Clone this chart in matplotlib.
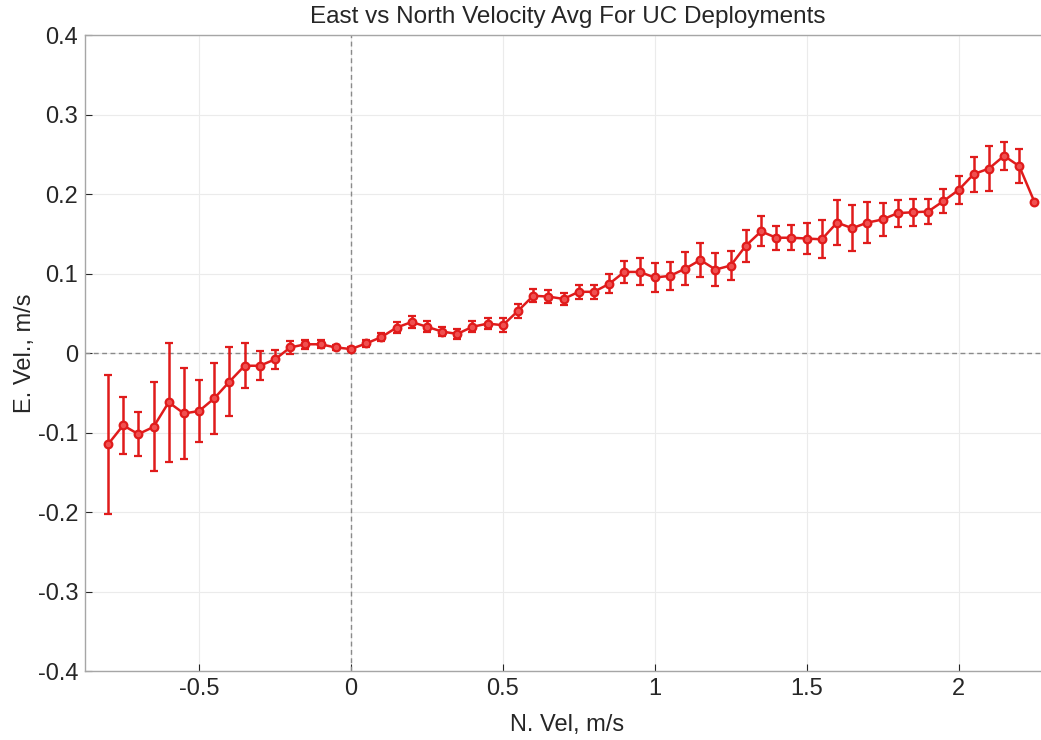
import numpy as np
import matplotlib.pyplot as plt

# North velocity bins (m/s)
n_vel = [-0.80, -0.75, -0.70, -0.65, -0.60, -0.55, -0.50, -0.45, -0.40, -0.35,
         -0.30, -0.25, -0.20, -0.15, -0.10, -0.05, 0.00, 0.05, 0.10, 0.15,
         0.20, 0.25, 0.30, 0.35, 0.40, 0.45, 0.50, 0.55, 0.60, 0.65,
         0.70, 0.75, 0.80, 0.85, 0.90, 0.95, 1.00, 1.05, 1.10, 1.15,
         1.20, 1.25, 1.30, 1.35, 1.40, 1.45, 1.50, 1.55, 1.60, 1.65,
         1.70, 1.75, 1.80, 1.85, 1.90, 1.95, 2.00, 2.05, 2.10, 2.15,
         2.20, 2.25]

# mean east velocity per bin (m/s)
e_vel = [-0.115, -0.091, -0.102, -0.093, -0.062, -0.076, -0.073, -0.057, -0.036, -0.016,
         -0.016, -0.008, 0.007, 0.011, 0.011, 0.007, 0.005, 0.012, 0.020, 0.032,
         0.039, 0.033, 0.027, 0.024, 0.033, 0.037, 0.035, 0.053, 0.072, 0.071,
         0.068, 0.077, 0.077, 0.087, 0.102, 0.102, 0.095, 0.097, 0.106, 0.117,
         0.105, 0.110, 0.135, 0.153, 0.145, 0.145, 0.144, 0.143, 0.164, 0.157,
         0.164, 0.168, 0.176, 0.177, 0.178, 0.191, 0.205, 0.225, 0.232, 0.248,
         0.235, 0.190]

# error bar half-widths (m/s)
e_err = [0.087, 0.036, 0.028, 0.056, 0.075, 0.057, 0.039, 0.045, 0.043, 0.028,
         0.018, 0.012, 0.008, 0.006, 0.005, 0.003, 0.003, 0.004, 0.005, 0.007,
         0.007, 0.007, 0.006, 0.006, 0.007, 0.007, 0.009, 0.009, 0.008, 0.008,
         0.008, 0.009, 0.009, 0.012, 0.014, 0.017, 0.018, 0.018, 0.021, 0.022,
         0.021, 0.018, 0.020, 0.019, 0.015, 0.016, 0.019, 0.024, 0.028, 0.029,
         0.026, 0.021, 0.017, 0.017, 0.016, 0.015, 0.018, 0.022, 0.028, 0.018,
         0.021, 0.000]

xticks = [-0.5, 0, 0.5, 1, 1.5, 2]
xticklabels = ['-0.5', '0', '0.5', '1', '1.5', '2']
yticks = [-0.4, -0.3, -0.2, -0.1, 0, 0.1, 0.2, 0.3, 0.4]
yticklabels = ['-0.4', '-0.3', '-0.2', '-0.1', '0', '0.1', '0.2', '0.3', '0.4']

plt.rcParams['font.family'] = ['Liberation Sans', 'DejaVu Sans']

fig = plt.figure(figsize=(10.41, 7.40), dpi=100)
# axes runs a little past the right edge of the figure
ax = fig.add_axes([0.0818, 0.0932, 0.9265, 0.8595])

red = '#e01b1b'
ax.axhline(0, color='#8a8a8a', lw=1.0, ls=(0, (3.5, 2.5)), zorder=1)
ax.axvline(0, color='#8a8a8a', lw=1.0, ls=(0, (3.5, 2.5)), zorder=1)

ax.errorbar(n_vel, e_vel, yerr=e_err, fmt='-o', color=red, lw=1.8,
            ms=5.5, mfc='#f05050', mec=red, mew=1.6,
            elinewidth=1.8, capsize=2.6, capthick=1.8, zorder=3)

ax.set_xlim(-0.875, 2.3)
ax.set_ylim(-0.4, 0.4)
ax.set_xticks(xticks)
ax.set_xticklabels(xticklabels)
ax.set_yticks(yticks)
ax.set_yticklabels(yticklabels)
ax.grid(True, color='#ebebeb', lw=0.8, zorder=0)
ax.set_axisbelow(True)
ax.tick_params(direction='in', length=5, width=0.8, labelsize=17, colors='#262626',
               top=False, right=False, pad=5)
for sp in ax.spines.values():
    sp.set_color('#a6a6a6')
    sp.set_linewidth(1.0)
ax.spines['right'].set_visible(False)

ax.set_title('East vs North Velocity Avg For UC Deployments', fontsize=17.5, color='#262626', pad=9)
ax.set_xlabel('N. Vel, m/s', fontsize=17, color='#262626', labelpad=10)
ax.set_ylabel('E. Vel., m/s', fontsize=17, color='#262626', labelpad=1)

fig.savefig('out.png', dpi=100)
